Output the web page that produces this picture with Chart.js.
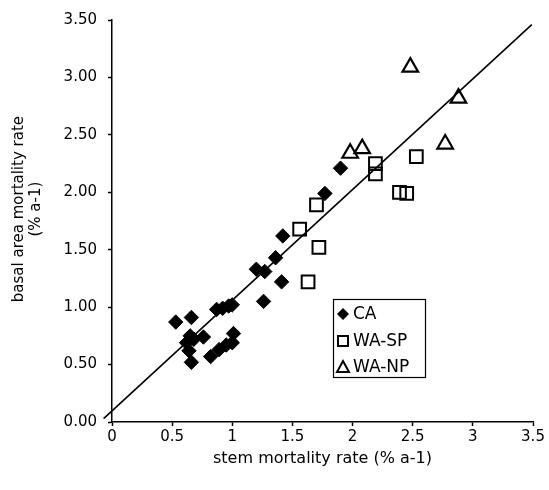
<!DOCTYPE html>
<html>
<head>
<meta charset="utf-8">
<script src="https://cdn.jsdelivr.net/npm/chart.js@4.4.0/dist/chart.umd.min.js"></script>
<style>
html, body { margin: 0; padding: 0; background: #fff; }
</style>
</head>
<body>
<canvas id="mortality" width="549" height="490"></canvas>
<script>
// CA sites (filled diamonds)
const caX = [0.53, 0.66, 0.87, 0.92, 0.97, 1.00, 0.62, 0.65, 0.68, 0.76, 0.64, 0.66, 0.82, 0.89, 0.95, 1.00, 1.01, 1.20, 1.27, 1.26, 1.36, 1.41, 1.42, 1.77, 1.90];
const caY = [0.87, 0.91, 0.98, 0.99, 1.01, 1.02, 0.69, 0.75, 0.72, 0.74, 0.62, 0.52, 0.57, 0.63, 0.67, 0.69, 0.77, 1.33, 1.31, 1.05, 1.43, 1.22, 1.62, 1.99, 2.21];
// WA-SP (open squares)
const spX = [1.56, 1.63, 1.70, 1.72, 2.19, 2.19, 2.39, 2.45, 2.53];
const spY = [1.68, 1.22, 1.89, 1.52, 2.25, 2.16, 2.00, 1.99, 2.31];
// WA-NP (open triangles)
const npX = [1.98, 2.08, 2.48, 2.77, 2.88];
const npY = [2.34, 2.38, 3.09, 2.42, 2.82];
// regression line ends
const fitX = [-0.07, 3.49];
const fitY = [0.03, 3.46];

const xTickLabels = ['0', '0.5', '1', '1.5', '2', '2.5', '3', '3.5'];
const yTickLabels = ['0.00', '0.50', '1.00', '1.50', '2.00', '2.50', '3.00', '3.50'];
const seriesNames = ['CA', 'WA-SP', 'WA-NP'];

function pts(xs, ys) {
  return xs.map((v, i) => ({ x: v, y: ys[i] }));
}

const FONT = 'DejaVu Sans, Arial, sans-serif';

// legend box drawn inside the plot, like the original
const legendBox = {
  id: 'legendBox',
  afterDraw(chart) {
    const ctx = chart.ctx;
    const left = 333, top = 299, w = 92, h = 78;
    ctx.save();
    ctx.fillStyle = '#fff';
    ctx.fillRect(left, top, w, h);
    ctx.strokeStyle = '#000';
    ctx.lineWidth = 1.2;
    ctx.strokeRect(left + 0.5, top + 0.5, w, h);
    const rows = [314, 341, 367];
    const mx = 343;
    ctx.lineWidth = 2;
    // diamond
    ctx.fillStyle = '#000';
    ctx.beginPath();
    ctx.moveTo(mx, rows[0] - 6); ctx.lineTo(mx + 6, rows[0]);
    ctx.lineTo(mx, rows[0] + 6); ctx.lineTo(mx - 6, rows[0]);
    ctx.closePath(); ctx.fill();
    // square
    ctx.strokeRect(mx - 5, rows[1] - 5, 10, 10);
    // triangle
    ctx.beginPath();
    ctx.moveTo(mx, rows[2] - 6); ctx.lineTo(mx + 6, rows[2] + 5);
    ctx.lineTo(mx - 6, rows[2] + 5); ctx.closePath(); ctx.stroke();
    ctx.fillStyle = '#000';
    ctx.font = '17px ' + FONT;
    ctx.textBaseline = 'middle';
    ctx.textAlign = 'left';
    seriesNames.forEach((n, i) => ctx.fillText(n, 353, rows[i] + 1));
    ctx.restore();
  }
};

const ctx = document.getElementById('mortality').getContext('2d');
const myChart = new Chart(ctx, {
  type: 'scatter',
  data: {
    datasets: [
      {
        label: 'fit',
        type: 'line',
        data: pts(fitX, fitY),
        borderColor: '#000',
        borderWidth: 1.6,
        pointRadius: 0,
        fill: false,
        clip: false
      },
      {
        label: seriesNames[0],
        data: pts(caX, caY),
        pointStyle: 'rectRot',
        pointRadius: 7.2,
        backgroundColor: '#000',
        borderColor: '#000',
        borderWidth: 1
      },
      {
        label: seriesNames[1],
        data: pts(spX, spY),
        pointStyle: 'rect',
        pointRadius: 9,
        backgroundColor: 'rgba(255,255,255,0)',
        borderColor: '#000',
        borderWidth: 2
      },
      {
        label: seriesNames[2],
        data: pts(npX, npY),
        pointStyle: 'triangle',
        pointRadius: 9,
        backgroundColor: 'rgba(255,255,255,0)',
        borderColor: '#000',
        borderWidth: 2.2
      }
    ]
  },
  options: {
    responsive: false,
    animation: false,
    devicePixelRatio: 1,
    layout: { padding: { top: 15, right: 16, left: 0, bottom: 0 } },
    plugins: {
      legend: { display: false },
      tooltip: { enabled: false }
    },
    scales: {
      x: {
        type: 'linear',
        min: 0,
        max: 3.5,
        afterFit: (s) => { s.height = 68; },
        grid: { drawOnChartArea: false, drawTicks: true, tickLength: 4, tickColor: '#000', tickWidth: 1.5 },
        border: { color: '#000', width: 1.5 },
        ticks: {
          stepSize: 0.5,
          padding: 2,
          color: '#000',
          font: { family: FONT, size: 15 },
          maxRotation: 0,
          callback: (v, i) => xTickLabels[i]
        },
        title: {
          display: true,
          text: 'stem mortality rate (% a-1)',
          color: '#000',
          font: { family: FONT, size: 16 },
          padding: { top: 0, bottom: 22 }
        }
      },
      y: {
        type: 'linear',
        min: 0,
        max: 3.5,
        afterFit: (s) => { s.width = 112; },
        grid: { drawOnChartArea: false, drawTicks: true, tickLength: 4, tickColor: '#000', tickWidth: 1.5 },
        border: { color: '#000', width: 1.5 },
        ticks: {
          stepSize: 0.5,
          padding: 11,
          color: '#000',
          font: { family: FONT, size: 15 },
          callback: (v, i) => yTickLabels[i]
        },
        title: {
          display: true,
          // leading spaces nudge the title up a little, as in the original
          text: ['     basal area mortality rate', '     (% a-1)'],
          color: '#000',
          font: { family: FONT, size: 15, lineHeight: 1.1 },
          padding: { top: 11, bottom: 0 }
        }
      }
    }
  },
  plugins: [legendBox]
});
</script>
</body>
</html>
